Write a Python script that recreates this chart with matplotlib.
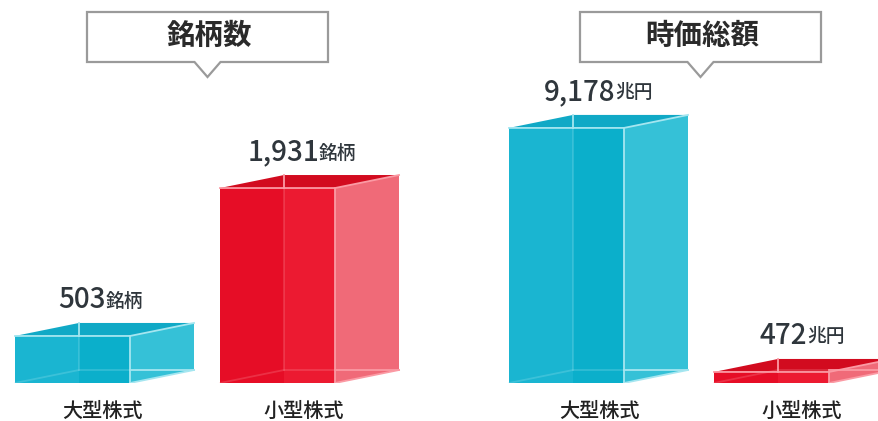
import matplotlib
matplotlib.use('Agg')
import matplotlib.pyplot as plt
import matplotlib.patches as patches

plt.rcParams['font.family'] = ['Noto Sans CJK JP', 'DejaVu Sans']

# values
panel_titles = ['銘柄数', '時価総額']
categories = ['大型株式', '小型株式']
stock_counts = [503, 1931]
market_caps = [9178, 472]
count_unit = '銘柄'
cap_unit = '兆円'

W, H = 879, 421
BASE_Y = 383       # baseline of the front faces, px from top
BAR_W = 115
DEPTH_X = 64
DEPTH_Y = 13

TEAL = {'front': '#1ab5d1', 'inner': '#0bafcb', 'side': '#35c1d7', 'top': '#10a9c6', 'line': '#a5e6f0'}
RED = {'front': '#e60d26', 'inner': '#ec1a31', 'side': '#f06a78', 'top': '#d20b1f', 'line': '#fb9aa4'}
TEXT = '#2f363c'


def draw_box(ax, x, value, colors, px_per_unit):
    y0 = ax.get_ylim()[0]
    dy = DEPTH_Y / px_per_unit
    # the opening on top, then the side and the two parts of the front
    top = [(x, value), (x + DEPTH_X, value + dy), (x + BAR_W + DEPTH_X, value + dy), (x + BAR_W, value)]
    side = [(x + BAR_W, y0), (x + BAR_W + DEPTH_X, y0 + dy), (x + BAR_W + DEPTH_X, value + dy), (x + BAR_W, value)]
    ax.add_patch(patches.Polygon(top, closed=True, fc=colors['top'], ec='none'))
    ax.add_patch(patches.Polygon(side, closed=True, fc=colors['side'], ec='none'))
    ax.add_patch(patches.Rectangle((x, y0), BAR_W, value - y0, fc=colors['front'], ec='none'))
    ax.add_patch(patches.Rectangle((x + DEPTH_X, y0), BAR_W - DEPTH_X, value - y0, fc=colors['inner'], ec='none'))

    # glass edges, the ones seen through the front stay faint
    lw = 1.3
    ax.plot([x + DEPTH_X, x + DEPTH_X], [value, value + dy], color=colors['line'], lw=lw)
    ax.plot([x + DEPTH_X, x + DEPTH_X], [y0 + dy, value], color=colors['line'], lw=lw, alpha=0.25)
    ax.plot([x + BAR_W, x + BAR_W + DEPTH_X], [y0 + dy, y0 + dy], color=colors['line'], lw=lw)
    ax.plot([x, x + BAR_W, x + BAR_W + DEPTH_X], [value, value, value + dy], color=colors['line'], lw=lw)
    ax.plot([x + BAR_W, x + BAR_W], [y0, value], color=colors['line'], lw=lw)
    ax.plot([x + BAR_W, x + BAR_W + DEPTH_X], [y0, y0 + dy], color=colors['line'], lw=lw)
    ax.plot([x, x + DEPTH_X, x + BAR_W], [y0, y0 + dy, y0 + dy], color=colors['line'], lw=lw, alpha=0.25)


def draw_panel(ax, lefts, values, unit, label_xs, name_xs, px_per_unit, colors):
    for x, v, name, lx, nx, c in zip(lefts, values, categories, label_xs, name_xs, colors):
        draw_box(ax, x, v, c, px_per_unit)
        top_val = v + DEPTH_Y / px_per_unit
        ax.annotate(f'{v:,}', (lx, top_val), xytext=(0, 23), textcoords='offset pixels',
                    ha='right', va='center', fontsize=20, fontweight='medium', color=TEXT,
                    annotation_clip=False)
        ax.annotate(unit, (lx, top_val), xytext=(0, 22), textcoords='offset pixels',
                    ha='left', va='center', fontsize=13.5, fontweight='medium', color=TEXT,
                    annotation_clip=False)
        ax.annotate(name, (nx, ax.get_ylim()[0]), xytext=(0, -28), textcoords='offset pixels',
                    ha='center', va='center', fontsize=14.5, fontweight='medium', color='#222222',
                    annotation_clip=False)


def make_axes(fig, x0, x1, base_value, px_per_unit):
    ax = fig.add_axes([x0 / W, (H - BASE_Y) / H, (x1 - x0) / W, BASE_Y / H])
    ax.set_xlim(x0, x1)
    ax.set_ylim(base_value, base_value + BASE_Y / px_per_unit)
    ax.axis('off')
    return ax


def callout(ax, x0, x1, title):
    y0, y1 = 12, 62
    mid = (x0 + x1) / 2
    pts = [(x0, y0), (x1, y0), (x1, y1), (mid + 13, y1), (mid, y1 + 15), (mid - 13, y1), (x0, y1)]
    ax.add_patch(patches.Polygon(pts, closed=True, fc='white', ec='#9a9a9a', lw=1.6))
    ax.text(mid + 2, (y0 + y1) / 2 - 1, title, ha='center', va='center', fontsize=20.5,
            fontweight='bold', color='#2a2a2a')


fig = plt.figure(figsize=(W / 100, H / 100), dpi=100)

left_ax = make_axes(fig, 0, 440, 49, 0.1036)
draw_panel(left_ax, [15, 220], stock_counts, count_unit, [106, 319], [102, 304], 0.1036, [TEAL, RED])

right_ax = make_axes(fig, 440, W, 78, 0.02803)
draw_panel(right_ax, [509, 714], market_caps, cap_unit, [615, 807], [599, 802], 0.02803, [TEAL, RED])

# callouts sit in plain pixel coordinates
over = fig.add_axes([0, 0, 1, 1])
over.set_xlim(0, W)
over.set_ylim(H, 0)
over.axis('off')
callout(over, 87, 328, panel_titles[0])
callout(over, 580, 821, panel_titles[1])

fig.savefig('out.png', dpi=100)
plt.close()
